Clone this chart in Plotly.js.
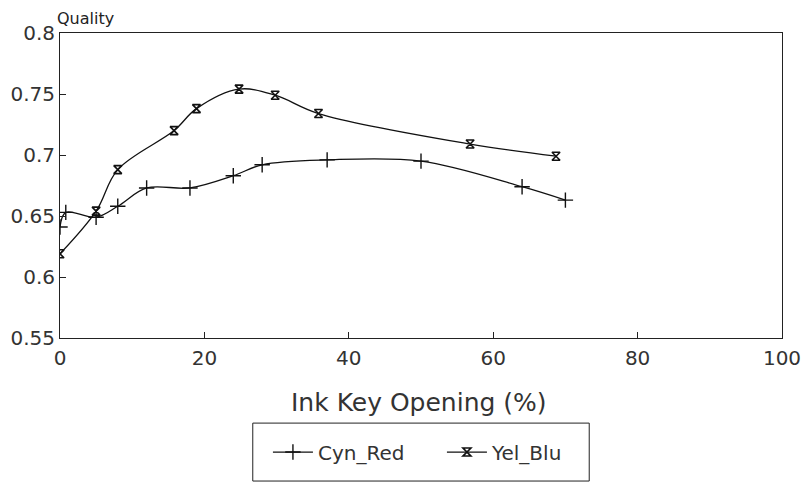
<!DOCTYPE html>
<html>
<head>
<meta charset="utf-8">
<script src="https://cdn.plot.ly/plotly-3.0.1.min.js"></script>
<style>html,body{margin:0;padding:0;background:#fff;}#chart{width:803px;height:484px;}</style>
</head>
<body>
<div id="chart"></div>
<script>
const cynRedX = [0, 0.8, 5, 8, 12, 18, 24, 28, 37, 50, 64, 70];
const cynRedY = [0.641, 0.653, 0.649, 0.658, 0.673, 0.673, 0.683, 0.692, 0.696, 0.695, 0.674, 0.663];
const yelBluX = [0, 5, 8, 15.8, 18.9, 24.8, 29.8, 35.8, 56.8, 68.7];
const yelBluY = [0.619, 0.654, 0.688, 0.720, 0.738, 0.754, 0.749, 0.734, 0.709, 0.699];
const xTicks = [0, 20, 40, 60, 80, 100];
const yTicks = [0.55, 0.6, 0.65, 0.7, 0.75, 0.8];
const yTickText = ['0.55', '0.6', '0.65', '0.7', '0.75', '0.8'];

const font = 'DejaVu Sans, Liberation Sans, sans-serif';
const traces = [
  {x: cynRedX, y: cynRedY, name: 'Cyn_Red', type: 'scatter', mode: 'lines+markers',
   line: {shape: 'spline', smoothing: 1, color: '#111', width: 1.3},
   marker: {symbol: 'cross-thin-open', size: 11, color: '#111', line: {width: 1.4, color: '#111'}}},
  {x: yelBluX, y: yelBluY, name: 'Yel_Blu', type: 'scatter', mode: 'lines+markers',
   line: {shape: 'spline', smoothing: 1, color: '#111', width: 1.3},
   marker: {symbol: 'hourglass-open', size: 8, color: '#111', line: {width: 1.6, color: '#111'}}}
];
const layout = {
  width: 803, height: 484,
  margin: {l: 60, r: 21, t: 33, b: 146},
  paper_bgcolor: '#fff', plot_bgcolor: '#fff',
  font: {family: font, color: '#222', size: 20},
  showlegend: true,
  xaxis: {range: [0, 100], tickvals: xTicks, ticks: 'inside', ticklen: 6, tickcolor: '#222',
    showgrid: false, zeroline: false, showline: true, linecolor: '#222', linewidth: 1, mirror: true,
    tickfont: {family: font, size: 20, color: '#333'}, ticklabelstandoff: 2},
  yaxis: {range: [0.55, 0.8], tickvals: yTicks, ticktext: yTickText, ticks: 'inside', ticklen: 6, tickcolor: '#222',
    showgrid: false, zeroline: false, showline: true, linecolor: '#222', linewidth: 1, mirror: true,
    tickfont: {family: font, size: 20, color: '#333'}},
  legend: {orientation: 'h', x: 0.288, xanchor: 'left', y: -0.374, yanchor: 'middle',
    borderwidth: 0, bgcolor: 'rgba(0,0,0,0)',
    font: {family: font, size: 20, color: '#333'}, itemwidth: 40, entrywidth: 119, tracegroupgap: 0},
  shapes: [
    {type: 'rect', xref: 'paper', yref: 'paper', x0: 0.267, x1: 0.733, y0: -0.469, y1: -0.279,
     line: {color: '#222', width: 1}, fillcolor: 'rgba(0,0,0,0)'}
  ],
  annotations: [
    {text: 'Quality', xref: 'paper', yref: 'paper', x: -0.007, y: 1.0, xanchor: 'left', yanchor: 'bottom',
     yshift: 3, showarrow: false, font: {family: font, size: 16, color: '#222'}},
    {text: 'Ink Key Opening (%)', xref: 'paper', yref: 'paper', x: 0.497, y: -0.21, xanchor: 'center', yanchor: 'middle',
     showarrow: false, font: {family: font, size: 25, color: '#333'}}
  ]
};
Plotly.newPlot('chart', traces, layout, {displayModeBar: false, staticPlot: true});
</script>
</body>
</html>
